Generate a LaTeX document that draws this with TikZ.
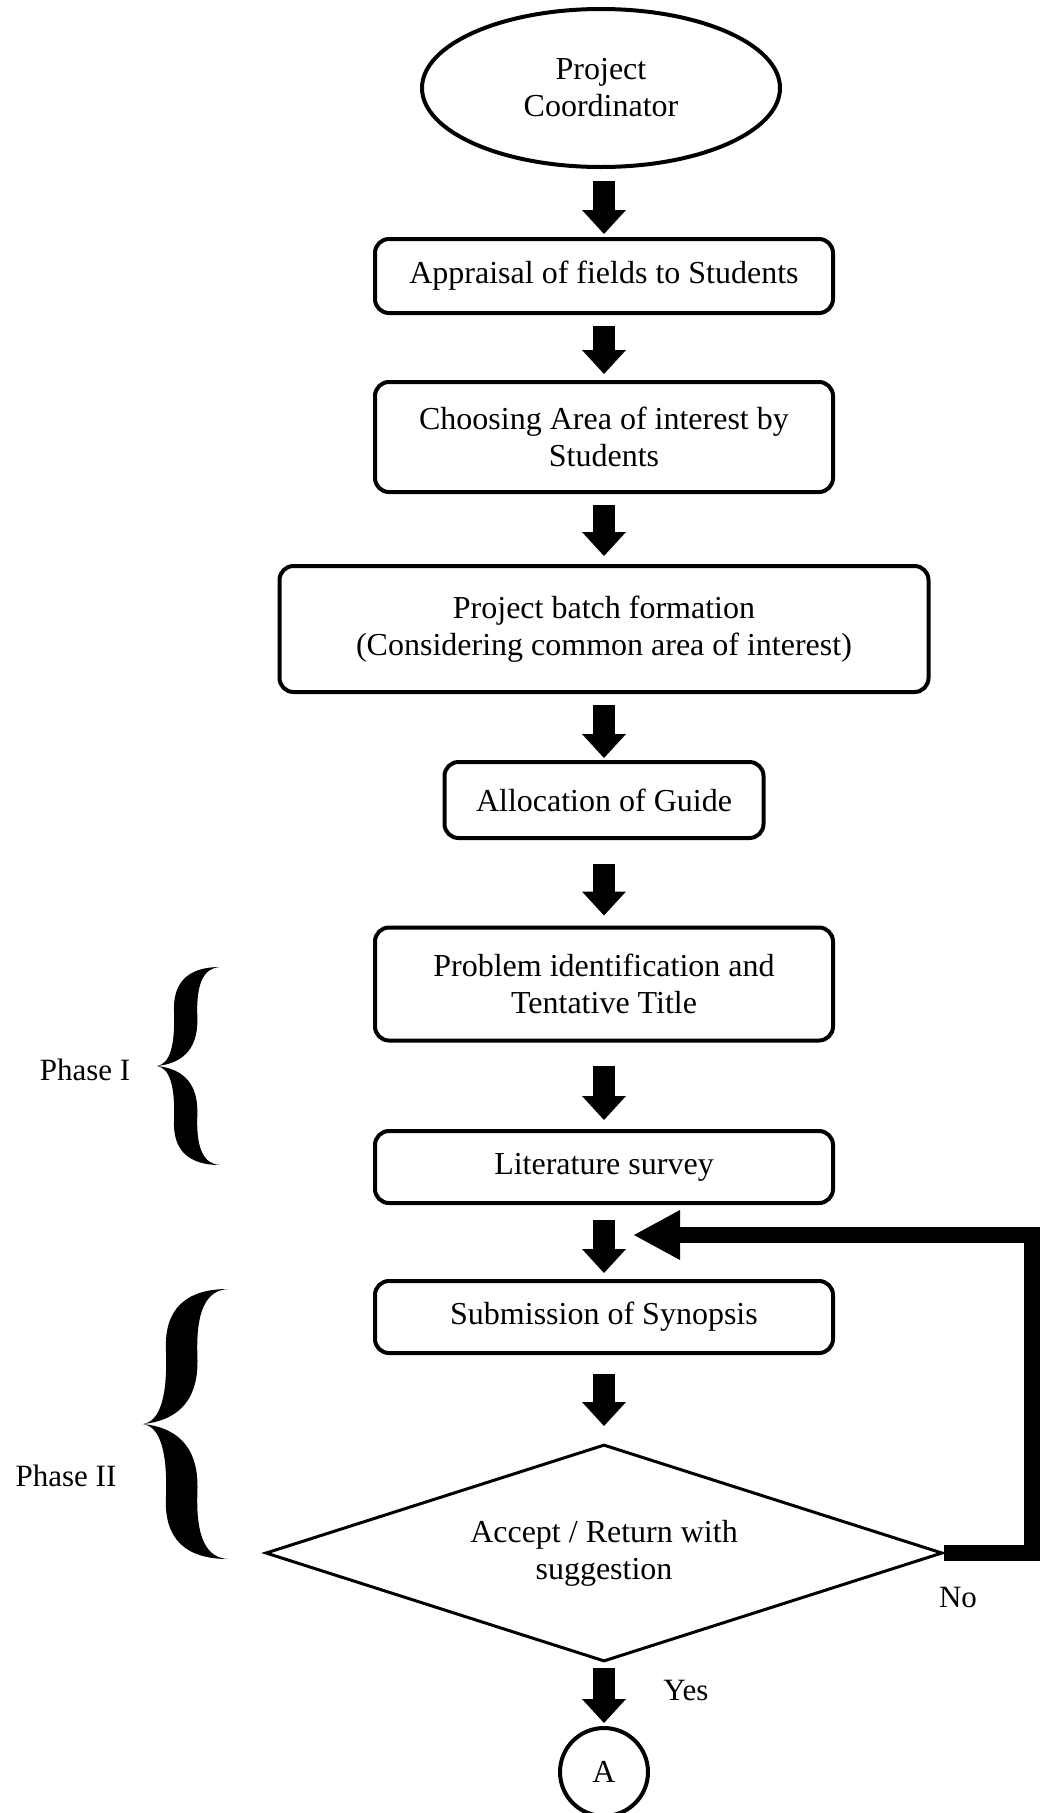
\documentclass[tikz,border=0pt]{standalone}
\usepackage{fontspec}
\setmainfont{Liberation Serif}
\usetikzlibrary{shapes.geometric,arrows.meta}

\tikzset{
  % curly brace opening to the right, tip at the origin, arms ending at (1,-1) and (1,1)
  phasebrace/.pic={
    \fill (1,-1) .. controls (0.5,-1) and (0.25,-0.85) .. (0.27,-0.55)
                 .. controls (0.29,-0.2) and (0.2,-0.02) .. (0,0)
                 .. controls (0.45,-0.03) and (0.66,-0.2) .. (0.64,-0.5)
                 .. controls (0.62,-0.85) and (0.75,-0.99) .. (1,-1) -- cycle;
    \fill (1,1) .. controls (0.5,1) and (0.25,0.85) .. (0.27,0.55)
                .. controls (0.29,0.2) and (0.2,0.02) .. (0,0)
                .. controls (0.45,0.03) and (0.66,0.2) .. (0.64,0.5)
                .. controls (0.62,0.85) and (0.75,0.99) .. (1,1) -- cycle;
  }
}

\begin{document}
\begin{tikzpicture}[x=1pt,y=-1pt,
  every node/.style={font=\fontsize{32}{37}\selectfont, inner sep=0pt},
  stepbox/.style={draw, line width=4pt, rounded corners=14pt, align=center},
  flow/.style={line width=22pt, -{Triangle[width=44pt, length=24pt, line width=0pt]}},
  loopback/.style={line width=16pt, line join=miter, -{Triangle[width=50pt, length=46pt, line width=0pt]}},
  sidelabel/.style={font=\fontsize{31}{37}\selectfont}
]
\useasboundingbox (0,0) rectangle (1040,1813);

% process chain
\node[ellipse, draw, line width=4pt, minimum width=358pt, minimum height=158pt, align=center]
  (coord) at (601,88) {Project\\Coordinator};
\node[stepbox, minimum width=458pt, minimum height=74pt]  (appraisal) at (604,276) {Appraisal of fields to Students};
\node[stepbox, minimum width=458pt, minimum height=110pt] (choose) at (604,437) {Choosing Area of interest by\\Students};
\node[stepbox, minimum width=649pt, minimum height=126pt] (batch) at (604,629) {Project batch formation\\(Considering common area of interest)};
\node[stepbox, minimum width=319pt, minimum height=76pt]  (guide) at (604,800) {Allocation of Guide};
\node[stepbox, minimum width=458pt, minimum height=113pt] (problem) at (604,984) {Problem identification and\\Tentative Title};
\node[stepbox, minimum width=458pt, minimum height=72pt]  (survey) at (604,1167) {Literature survey};
\node[stepbox, minimum width=458pt, minimum height=72pt]  (synopsis) at (604,1317) {Submission of Synopsis};
\node[diamond, draw, line width=3pt, aspect=3.12, minimum width=677pt, minimum height=217pt, align=center]
  (decide) at (604,1553) {Accept / Return with\\suggestion};
\node[circle, draw, line width=4pt, minimum size=88pt] (conn) at (604,1772) {A};

% arrows between steps
\draw[flow, shorten <=12pt, shorten >=3pt]  (coord.south -| appraisal.north) -- (appraisal.north);
\draw[flow, shorten <=11pt, shorten >=6pt]  (appraisal.south) -- (choose.north);
\draw[flow, shorten <=11pt, shorten >=8pt]  (choose.south) -- (batch.north);
\draw[flow, shorten <=11pt, shorten >=2pt]  (batch.south) -- (guide.north);
\draw[flow, shorten <=24pt, shorten >=10pt] (guide.south) -- (problem.north);
\draw[flow, shorten <=23pt, shorten >=9pt]  (problem.south) -- (survey.north);
\draw[flow, shorten <=15pt, shorten >=6pt]  (survey.south) -- (synopsis.north);
\draw[flow, shorten <=19pt, shorten >=17pt] (synopsis.south) -- (decide.north);
\draw[flow, shorten <=5pt, shorten >=3pt]   (decide.south) -- (conn.north);

% return path for "No"
\coordinate (backcorner) at (1032,1235);
\coordinate (backtip) at (634,1235);
\draw[loopback] (decide.east) -- (decide.east -| backcorner) -- (backcorner) -- (backtip);

% branch labels
\node[sidelabel] (nolabel) at (958,1597) {No};
\node[sidelabel] (yeslabel) at (686,1690) {Yes};

% phase braces and labels
\path (157,1066) pic[xscale=63, yscale=99] {phasebrace};
\node[sidelabel] (phase1) at (85,1070) {Phase I};
\path (143,1424) pic[xscale=85, yscale=135] {phasebrace};
\node[sidelabel] (phase2) at (66,1476) {Phase II};
\end{tikzpicture}
\end{document}
